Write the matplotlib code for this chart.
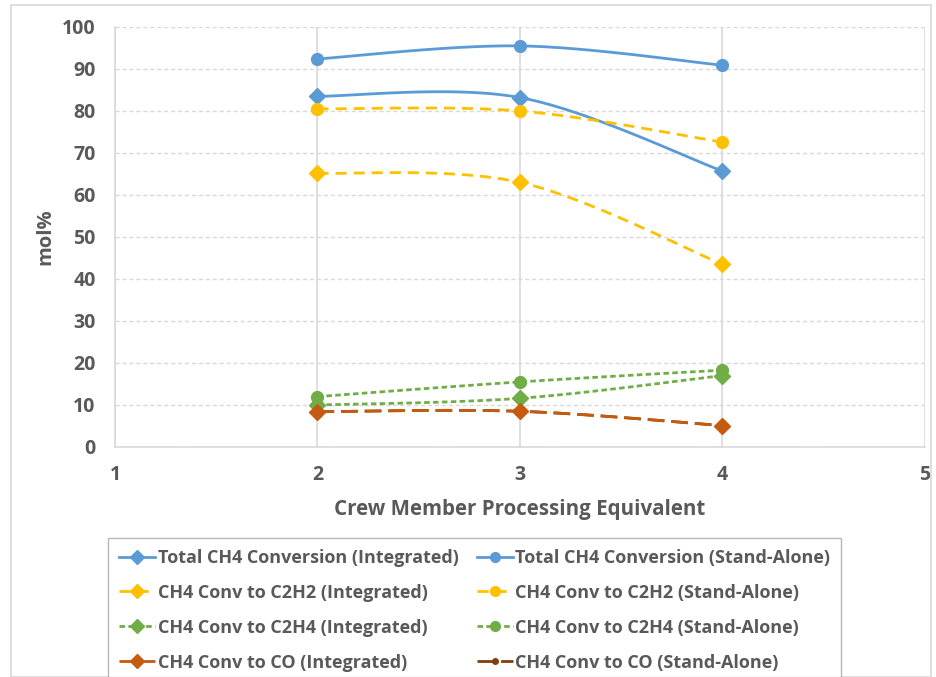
import numpy as np
import matplotlib
matplotlib.use("Agg")
import matplotlib.pyplot as plt
from matplotlib.lines import Line2D
from matplotlib.patches import Rectangle

plt.rcParams['font.family'] = ['Open Sans', 'DejaVu Sans']

x = [2, 3, 4]
total_int = [83.5, 83.2, 65.7]
total_sa = [92.4, 95.5, 90.9]
c2h2_int = [65.2, 63.0, 43.5]
c2h2_sa = [80.5, 80.0, 72.6]
c2h4_int = [10.0, 11.6, 17.0]
c2h4_sa = [12.0, 15.5, 18.3]
co_int = [8.4, 8.5, 5.1]
co_sa = [8.4, 8.5, 5.1]

labels_int = ["Total CH4 Conversion (Integrated)", "CH4 Conv to C2H2 (Integrated)",
              "CH4 Conv to C2H4 (Integrated)", "CH4 Conv to CO (Integrated)"]
labels_sa = ["Total CH4 Conversion (Stand-Alone)", "CH4 Conv to C2H2 (Stand-Alone)",
             "CH4 Conv to C2H4 (Stand-Alone)", "CH4 Conv to CO (Stand-Alone)"]
x_ticks = [1, 2, 3, 4, 5]
y_ticks = list(range(0, 101, 10))

TXT = '#595959'


def smooth(xs, ys, n=40):
    """Excel-like smoothed line (Catmull-Rom Bezier) through the data points."""
    P = np.column_stack([xs, ys]).astype(float)
    out = []
    for i in range(len(P) - 1):
        p0 = P[i - 1] if i > 0 else P[i]
        p1, p2 = P[i], P[i + 1]
        p3 = P[i + 2] if i + 2 < len(P) else P[i + 1]
        c1 = p1 + (p2 - p0) / 6.0
        c2 = p2 - (p3 - p1) / 6.0
        t = np.linspace(0, 1, n)[:, None]
        seg = ((1 - t) ** 3) * p1 + 3 * ((1 - t) ** 2) * t * c1 + 3 * (1 - t) * t ** 2 * c2 + t ** 3 * p2
        out.append(seg if i == 0 else seg[1:])
    S = np.vstack(out)
    return S[:, 0], S[:, 1]


fig = plt.figure(figsize=(9.37, 6.77), dpi=100)
fig.patches.append(Rectangle((11 / 937, 0), 920 / 937, 1 - 5 / 677, transform=fig.transFigure,
                             fill=False, edgecolor='#D9D9D9', lw=1.2))
ax = fig.add_axes([115 / 937, (677 - 447) / 677, 810 / 937, 420 / 677])

blue = '#5B9BD5'
yellow = '#FFC000'
green = '#70AD47'
orange = '#C55A11'
brown = '#843C0C'

dash_long = (0, (4, 2.5))
dash_short = (0, (2, 1.2))
dash_co = (0, (6, 2.5))

series = [
    (co_sa, brown, dash_co, 'o', 4, labels_sa[3], 2),
    (total_int, blue, '-', 'D', 8, labels_int[0], 3),
    (total_sa, blue, '-', 'o', 8.5, labels_sa[0], 3),
    (c2h2_int, yellow, dash_long, 'D', 8, labels_int[1], 3),
    (c2h2_sa, yellow, dash_long, 'o', 8.5, labels_sa[1], 3),
    (c2h4_int, green, dash_short, 'D', 8, labels_int[2], 3),
    (c2h4_sa, green, dash_short, 'o', 8.5, labels_sa[2], 3),
    (co_int, orange, dash_co, 'D', 8, labels_int[3], 3),
]
handles = {}
for ys, col, ls, mk, ms, lab, z in series:
    sx, sy = smooth(x, ys)
    ax.plot(sx, sy, color=col, ls=ls, lw=2, zorder=z)
    ax.plot(x, ys, ls='none', marker=mk, ms=ms, color=col, mec=col, zorder=z + 0.1)
    handles[lab] = Line2D([], [], color=col, ls=ls, lw=2, marker=mk,
                          ms=(4 if mk == 'o' and col == brown else 7), mec=col)

ax.set_xlim(1, 5)
ax.set_ylim(0, 100)
ax.set_xticks(x_ticks)
ax.set_yticks(y_ticks)
ax.tick_params(length=0, labelsize=14, colors=TXT)
for t in ax.get_xticklabels() + ax.get_yticklabels():
    t.set_fontweight('bold')
ax.tick_params(axis='y', pad=14)
ax.tick_params(axis='x', pad=13)
ax.grid(axis='y', color='#D9D9D9', ls=(0, (3, 2)), lw=1)
ax.grid(axis='x', color='#D9D9D9', ls='-', lw=1.2)
ax.set_axisbelow(True)
for s in ['top', 'right']:
    ax.spines[s].set_visible(False)
for s in ['left', 'bottom']:
    ax.spines[s].set_color('#D9D9D9')
    ax.spines[s].set_linewidth(1.2)

ax.set_ylabel('mol%', fontsize=14.5, fontweight='bold', color=TXT, labelpad=5)
ax.set_xlabel('Crew Member Processing Equivalent', fontsize=14.8, fontweight='bold', color=TXT, labelpad=10)

order = labels_int + labels_sa
leg = fig.legend([handles[l] for l in order], order, ncol=2, loc='upper left',
                 bbox_to_anchor=(108 / 937, 1 - 538 / 677), frameon=True, fancybox=False,
                 edgecolor='#A6A6A6', fontsize=13, handlelength=2.0, handletextpad=0.15,
                 columnspacing=1.0, labelspacing=0.94, borderpad=0.6, borderaxespad=0)
leg.get_frame().set_linewidth(1)
for t in leg.get_texts():
    t.set_color(TXT)
    t.set_fontweight('bold')

fig.savefig('out.png', dpi=100)
